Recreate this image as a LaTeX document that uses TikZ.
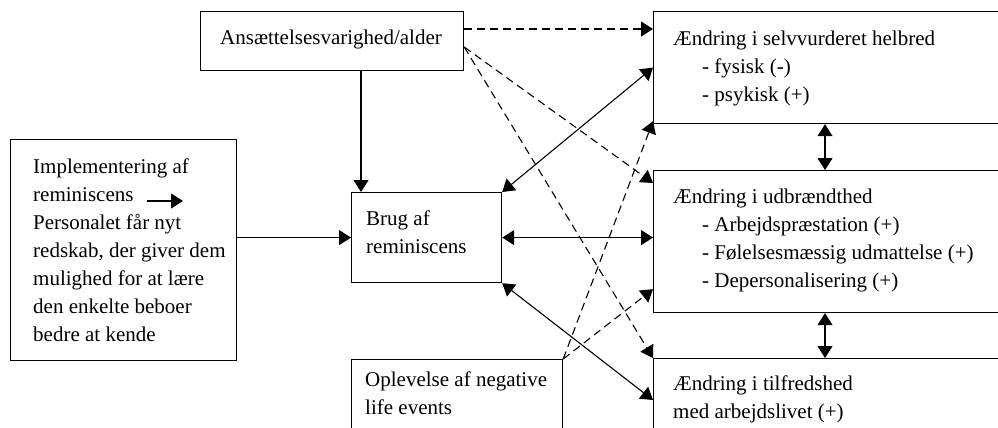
\documentclass[tikz,border=0pt]{standalone}
\usepackage{fontspec}
\setmainfont{Liberation Serif}
\usetikzlibrary{arrows.meta,calc}

\begin{document}
\begin{tikzpicture}[x=1pt,y=-1pt,
  box/.style={draw, line width=1.2pt, rectangle, anchor=north west, inner sep=0pt},
  txt/.style={anchor=base west, inner sep=0pt, align=left, font=\fontsize{21}{28}\selectfont},
  arr/.style={line width=1.1pt, -{Triangle[length=12pt,width=15pt]}},
  biarr/.style={line width=1.1pt, {Triangle[length=12pt,width=15pt]}-{Triangle[length=12pt,width=15pt]}},
  dsh/.style={arr, dash pattern=on 8pt off 5pt}]

\useasboundingbox (0,0) rectangle (998,428);
\clip (0,0) rectangle (998,428);

% boxes
\node[box, minimum width=263pt, minimum height=59pt]  (ans)  at (200,11)  {};
\node[box, minimum width=226pt, minimum height=221pt] (impl) at (10,139)  {};
\node[box, minimum width=150pt, minimum height=90pt]  (brug) at (351,192) {};
\node[box, minimum width=211pt, minimum height=90pt]  (opl)  at (351,359) {};
\node[box, minimum width=360pt, minimum height=112pt] (b1)   at (653,11)  {};
\node[box, minimum width=360pt, minimum height=142pt] (b2)   at (653,170) {};
\node[box, minimum width=360pt, minimum height=90pt]  (b3)   at (653,358) {};

% texts (each placed at the baseline of its last line)
\node[txt] (tans) at (220,45) {Ansættelsesvarighed/alder};
\node[txt] (timpl) at (33,341) {Implementering af\\reminiscens\\Personalet får nyt\\redskab, der giver dem\\mulighed for at lære\\den enkelte beboer\\bedre at kende};
\node[txt] (tbrug) at (366,253) {Brug af\\reminiscens};
\node[txt] (topl) at (365,414) {Oplevelse af negative\\life events};
\node[txt] (tb1) at (673,101) {Ændring i selvvurderet helbred\\\hspace{29pt}- fysisk (-)\\\hspace{29pt}- psykisk (+)};
\node[txt] (tb2) at (673,287) {Ændring i udbrændthed\\\hspace{29pt}- Arbejdspræstation (+)\\\hspace{29pt}- Følelsesmæssig udmattelse (+)\\\hspace{29pt}- Depersonalisering (+)};
\node[txt] (tb3) at (673,418) {Ændring i tilfredshed\\med arbejdslivet (+)};

% small arrow inside the implementation box
\coordinate (sa) at (147,201);
\coordinate (sb) at (183,201);
\draw[arr] (sa) -- (sb);

% solid connectors
\draw[arr] ($(ans.south -| brug.west)+(10,0)$) -- ($(brug.north west)+(10,0)$);
\draw[arr] (impl.east |- brug.west) -- (brug.west);
\draw[biarr] (brug.east) -- (brug.east -| b2.west);
\draw[biarr] (brug.north east) -- (b1.west);
\draw[biarr] (brug.south east) -- ($(b3.north west)+(0,42)$);
\draw[biarr] ($(b1.south west)+(172,0)$) -- ($(b2.north west)+(172,0)$);
\draw[biarr] ($(b2.south west)+(172,0)$) -- ($(b3.north west)+(172,0)$);

% dashed connectors
\draw[dsh] ($(ans.north east)+(0,18)$) -- ($(b1.north west)+(0,18)$);
\coordinate (ansx) at ($(ans.north east)+(0,36)$);
\draw[dsh] (ansx) -- ($(b2.north west)+(0,13)$);
\draw[dsh] (ansx) -- (b3.north west);
\draw[dsh] (opl.north east) -- ($(b1.south west)+(0,-3)$);
\draw[dsh] (opl.north east) -- ($(b2.south west)+(0,-24)$);
\end{tikzpicture}
\end{document}
